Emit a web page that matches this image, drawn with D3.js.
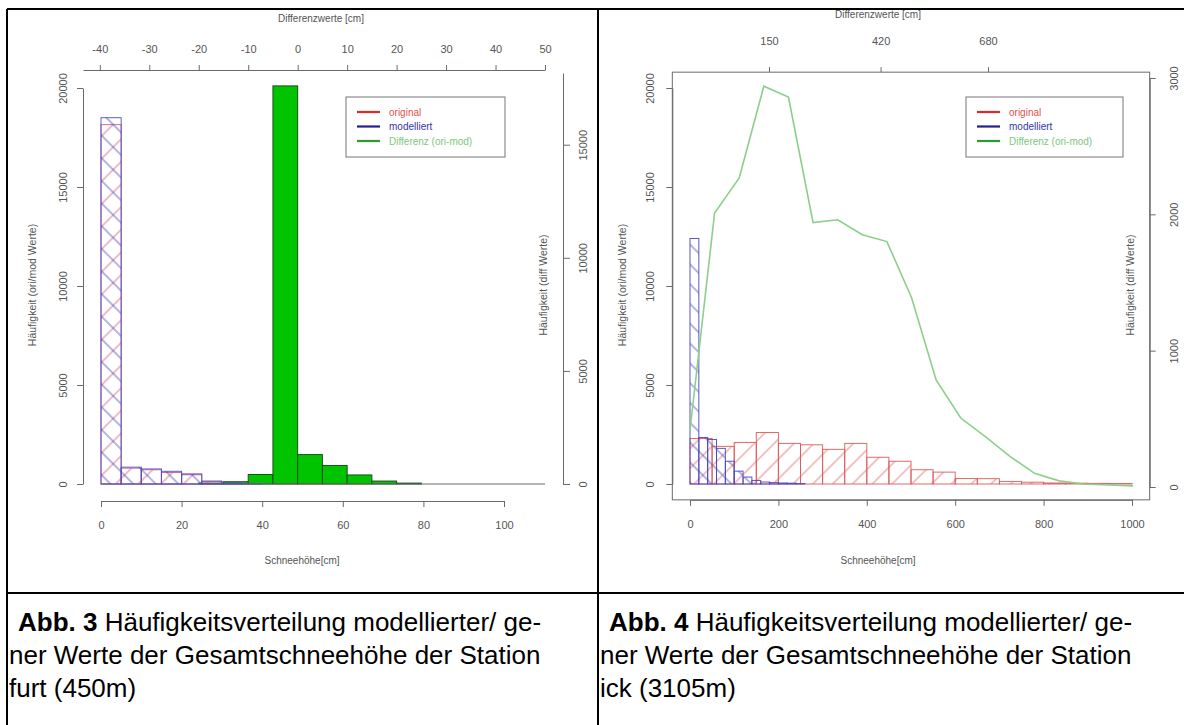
<!DOCTYPE html>
<html><head><meta charset="utf-8">
<script src="https://cdn.jsdelivr.net/npm/d3@7"></script>
<style>
html,body{margin:0;padding:0;background:#fff;}
svg{display:block;font-family:"Liberation Sans",Arial,sans-serif;}
</style></head><body>
<svg id="c" width="1184" height="725"></svg>
<script>
// ---------------- DATA ----------------
// Left chart (Abb. 3): snow depth histograms, bin width 5 cm
const snowBinWidthLeft = 5;
const snowBinsLeft = [0, 5, 10, 15, 20, 25, 30, 35];
const originalLeft = [18150, 800, 720, 580, 520, 120, 30, 10];
const modelliertLeft = [18500, 850, 760, 640, 470, 150, 40, 10];
// Differences histogram (top axis), bin width 5 cm
const diffBinWidthLeft = 5;
const diffBinsLeft = [-20, -15, -10, -5, 0, 5, 10, 15, 20];
const differenzLeft = [40, 100, 420, 17600, 1300, 820, 400, 130, 40];
const diffTicksLeft = [-40, -30, -20, -10, 0, 10, 20, 30, 40, 50];
const snowTicksLeft = [0, 20, 40, 60, 80, 100];
const countTicksLeft = [0, 5000, 10000, 15000, 20000];
const diffCountTicksLeft = [0, 5000, 10000, 15000];

// Right chart (Abb. 4)
const oriBinWidthRight = 50;
const oriBinsRight = [0, 50, 100, 150, 200, 250, 300, 350, 400, 450, 500, 550, 600, 650, 700, 750, 800, 850, 900, 950];
const originalRight = [2300, 1900, 2100, 2600, 2050, 1980, 1750, 2050, 1350, 1150, 720, 600, 280, 270, 130, 90, 50, 40, 30, 25];
const modBinWidthRight = 20;
const modBinsRight = [0, 20, 40, 60, 80, 100, 120, 140, 160, 180, 200, 220, 240];
const modelliertRight = [12400, 2350, 2250, 1800, 1150, 650, 350, 180, 100, 70, 50, 40, 20];
// Differences frequency polygon (difference class index)
const diffIndexRight = [1, 2, 3, 4, 5, 6, 7, 8, 9, 10, 11, 12, 13, 14, 15, 16, 17, 18, 19];
const differenzRight = [418, 2010, 2267, 2940, 2860, 1940, 1960, 1850, 1800, 1390, 785, 506, 370, 225, 100, 45, 22, 15, 8];
const diffTicksRight = [150, 420, 680];
const snowTicksRight = [0, 200, 400, 600, 800, 1000];
const countTicksRight = [0, 5000, 10000, 15000, 20000];
const diffCountTicksRight = [0, 1000, 2000, 3000];

const legendLabels = ["original", "modelliert", "Differenz (ori-mod)"];
const legendLineColors = ["#e02828", "#1e1e9a", "#2f9a2f"];
const legendTextColors = ["#e05050", "#3535a8", "#7cc87c"];

const captionLeft = ["Abb. 3", " Häufigkeitsverteilung modellierter/ ge-", "ner Werte der Gesamtschneehöhe der Station", "furt (450m)"];
const captionRight = ["Abb. 4", " Häufigkeitsverteilung modellierter/ ge-", "ner Werte der Gesamtschneehöhe der Station", "ick (3105m)"];

// ---------------- DRAWING ----------------
const svg = d3.select("#c");
const AX = "#6a6a6a", TX = "#555";
const fmt = d => String(d);
const defs = svg.append("defs");
function hatch(id, color, angle, size, sw) {
  const p = defs.append("pattern").attr("id", id).attr("patternUnits", "userSpaceOnUse")
    .attr("width", size).attr("height", size).attr("patternTransform", `rotate(${angle})`);
  p.append("line").attr("x1", size / 2).attr("y1", 0).attr("x2", size / 2).attr("y2", size)
    .attr("stroke", color).attr("stroke-width", sw);
}
hatch("hRedL", "rgba(200,80,120,0.75)", 45, 16, 1);
hatch("hBlueL", "rgba(70,70,185,0.8)", -45, 16, 1);
hatch("hRedR", "rgba(225,90,90,0.75)", 45, 14, 1);
hatch("hBlueR", "rgba(70,70,190,0.8)", -45, 14, 1);

function styleAxis(g, fs) {
  g.select(".domain").attr("stroke", AX).attr("stroke-width", 1);
  g.selectAll(".tick line").attr("stroke", AX);
  g.selectAll(".tick text").attr("fill", TX).attr("font-size", fs || 11)
    .attr("font-family", '"Liberation Sans",Arial,sans-serif');
}
function rotLabels(g, d) {
  g.selectAll(".tick text").attr("transform", "rotate(-90)")
    .attr("x", 0).attr("y", d).attr("dy", 0).attr("text-anchor", "middle");
}
function vtext(x, y, s, fs) {
  svg.append("text").attr("transform", `translate(${x},${y}) rotate(-90)`)
    .attr("text-anchor", "middle").attr("font-size", fs).attr("fill", TX).text(s);
}
function htext(x, y, s, fs) {
  svg.append("text").attr("x", x).attr("y", y).attr("text-anchor", "middle")
    .attr("font-size", fs).attr("fill", TX).text(s);
}
function legend(x, y, w, h) {
  const g = svg.append("g").attr("transform", `translate(${x},${y})`);
  g.append("rect").attr("width", w).attr("height", h).attr("fill", "#fff").attr("stroke", "#777");
  legendLabels.forEach((s, i) => {
    const yy = 15 + i * 14.5;
    g.append("line").attr("x1", 11).attr("x2", 34).attr("y1", yy).attr("y2", yy)
      .attr("stroke", legendLineColors[i]).attr("stroke-width", 2.2);
    g.append("text").attr("x", 43).attr("y", yy + 3.5).attr("font-size", 10)
      .attr("fill", legendTextColors[i]).text(s);
  });
}

// ===== LEFT CHART =====
const xL = d3.scaleLinear().domain([0, 100]).range([101, 504]);
const xDiffL = d3.scaleLinear().domain([-43.4, 50]).range([83, 545]);
const yL = d3.scaleLinear().domain([0, 20000]).range([484, 88]);
const yDiffL = d3.scaleLinear().domain([0, 18170]).range([484, 73]);

svg.append("g").selectAll("rect").data(diffBinsLeft).join("rect")
  .attr("x", d => xDiffL(d)).attr("width", d => xDiffL(d + diffBinWidthLeft) - xDiffL(d))
  .attr("y", (d, i) => yDiffL(differenzLeft[i]))
  .attr("height", (d, i) => yDiffL(0) - yDiffL(differenzLeft[i]))
  .attr("fill", "#00c400").attr("stroke", "#1d4d1d").attr("stroke-width", 1);
svg.append("line").attr("x1", xL(0)).attr("x2", xDiffL(50)).attr("y1", yL(0)).attr("y2", yL(0))
  .attr("stroke", AX);
[[originalLeft, "hRedL", "rgba(200,80,130,0.85)"], [modelliertLeft, "hBlueL", "rgba(80,80,190,0.9)"]].forEach(([vals, pat, col]) => {
  svg.append("g").selectAll("rect").data(snowBinsLeft).join("rect")
    .attr("x", d => xL(d)).attr("width", d => xL(d + snowBinWidthLeft) - xL(d))
    .attr("y", (d, i) => yL(vals[i])).attr("height", (d, i) => yL(0) - yL(vals[i]))
    .attr("fill", `url(#${pat})`).attr("stroke", col).attr("stroke-width", 1);
});
let g;
g = svg.append("g").attr("transform", "translate(0,70)")
  .call(d3.axisTop(xDiffL).tickValues(diffTicksLeft).tickFormat(fmt).tickSize(5).tickSizeOuter(0));
styleAxis(g); g.selectAll(".tick text").attr("y", -17).attr("dy", 0);
g = svg.append("g").attr("transform", "translate(0,501)")
  .call(d3.axisBottom(xL).tickValues(snowTicksLeft).tickFormat(fmt).tickSize(6).tickSizeOuter(0));
styleAxis(g); g.selectAll(".tick text").attr("y", 28).attr("dy", 0);
g = svg.append("g").attr("transform", "translate(83,0)")
  .call(d3.axisLeft(yL).tickValues(countTicksLeft).tickFormat(fmt).tickSize(6).tickSizeOuter(0));
styleAxis(g); rotLabels(g, -16);
g = svg.append("g").attr("transform", "translate(563,0)")
  .call(d3.axisRight(yDiffL).tickValues(diffCountTicksLeft).tickFormat(fmt).tickSize(7).tickSizeOuter(0));
styleAxis(g); rotLabels(g, 24);
htext(321, 22, "Differenzwerte [cm]", 10);
htext(302, 564, "Schneehöhe[cm]", 10);
vtext(36, 285, "Häufigkeit (ori/mod Werte)", 10.5);
vtext(547, 285, "Häufigkeit (diff Werte)", 10.5);
legend(346, 97, 159, 60);

// ===== RIGHT CHART =====
const xR = d3.scaleLinear().domain([0, 1000]).range([690, 1132]);
const xIdxR = d3.scaleLinear().domain([1, 19]).range([690, 1133]);
const xDiffR = d3.scaleLinear().domain([150, 680]).range([769, 988]);
const yR = d3.scaleLinear().domain([0, 20000]).range([484, 88]);
const yDiffR = d3.scaleLinear().domain([0, 3000]).range([487, 78]);

svg.append("g").selectAll("rect").data(oriBinsRight).join("rect")
  .attr("x", d => xR(d)).attr("width", d => xR(d + oriBinWidthRight) - xR(d))
  .attr("y", (d, i) => yR(originalRight[i])).attr("height", (d, i) => yR(0) - yR(originalRight[i]))
  .attr("fill", "url(#hRedR)").attr("stroke", "rgba(220,90,90,0.9)").attr("stroke-width", 1);
svg.append("g").selectAll("rect").data(modBinsRight).join("rect")
  .attr("x", d => xR(d)).attr("width", d => xR(d + modBinWidthRight) - xR(d))
  .attr("y", (d, i) => yR(modelliertRight[i])).attr("height", (d, i) => yR(0) - yR(modelliertRight[i]))
  .attr("fill", "url(#hBlueR)").attr("stroke", "rgba(70,70,190,0.9)").attr("stroke-width", 1);
svg.append("path").datum(diffIndexRight)
  .attr("d", d3.line().x(d => xIdxR(d)).y((d, i) => yDiffR(differenzRight[i])))
  .attr("fill", "none").attr("stroke", "#8ccf8c").attr("stroke-width", 1.6);
svg.append("rect").attr("x", xR(-40)).attr("y", yR(20800))
  .attr("width", xR(1040) - xR(-40)).attr("height", yR(-800) - yR(20800))
  .attr("fill", "none").attr("stroke", AX);
g = svg.append("g").attr("transform", `translate(0,${yR(20800)})`)
  .call(d3.axisTop(xDiffR).tickValues(diffTicksRight).tickFormat(fmt).tickSize(5).tickSizeOuter(0));
styleAxis(g); g.select(".domain").remove(); g.selectAll(".tick text").attr("y", -27).attr("dy", 0);
g = svg.append("g").attr("transform", `translate(0,${yR(-800)})`)
  .call(d3.axisBottom(xR).tickValues(snowTicksRight).tickFormat(fmt).tickSize(6).tickSizeOuter(0));
styleAxis(g); g.selectAll(".tick text").attr("y", 28).attr("dy", 0);
g = svg.append("g").attr("transform", `translate(${xR(-40)},0)`)
  .call(d3.axisLeft(yR).tickValues(countTicksRight).tickFormat(fmt).tickSize(6).tickSizeOuter(0));
styleAxis(g); rotLabels(g, -18);
g = svg.append("g").attr("transform", `translate(${xR(1040)},0)`)
  .call(d3.axisRight(yDiffR).tickValues(diffCountTicksRight).tickFormat(fmt).tickSize(6).tickSizeOuter(0));
styleAxis(g); rotLabels(g, 28);
htext(878, 18, "Differenzwerte [cm]", 10);
htext(878, 564, "Schneehöhe[cm]", 10);
vtext(626, 285, "Häufigkeit (ori/mod Werte)", 10.5);
vtext(1134, 285, "Häufigkeit (diff Werte)", 10.5);
legend(966, 97, 157, 60);

// ===== TABLE BORDERS =====
[[7, 9, 1184, 9], [7, 9, 7, 725], [598, 9, 598, 725], [7, 593, 1184, 593]].forEach(([a, b, c, d]) => {
  svg.append("line").attr("x1", a).attr("y1", b).attr("x2", c).attr("y2", d)
    .attr("stroke", "#000").attr("stroke-width", 2);
});

// ===== CAPTIONS =====
function caption(x0, lines) {
  const fs = 26;
  const t1 = svg.append("text").attr("x", x0 + 9).attr("y", 631).attr("font-size", fs).attr("fill", "#000");
  t1.append("tspan").attr("font-weight", "bold").text(lines[0]);
  t1.append("tspan").text(lines[1]);
  svg.append("text").attr("x", x0).attr("y", 664).attr("font-size", fs).attr("fill", "#000").text(lines[2]);
  svg.append("text").attr("x", x0).attr("y", 697).attr("font-size", fs).attr("fill", "#000").text(lines[3]);
}
caption(9, captionLeft);
caption(600, captionRight);
</script>
</body></html>
